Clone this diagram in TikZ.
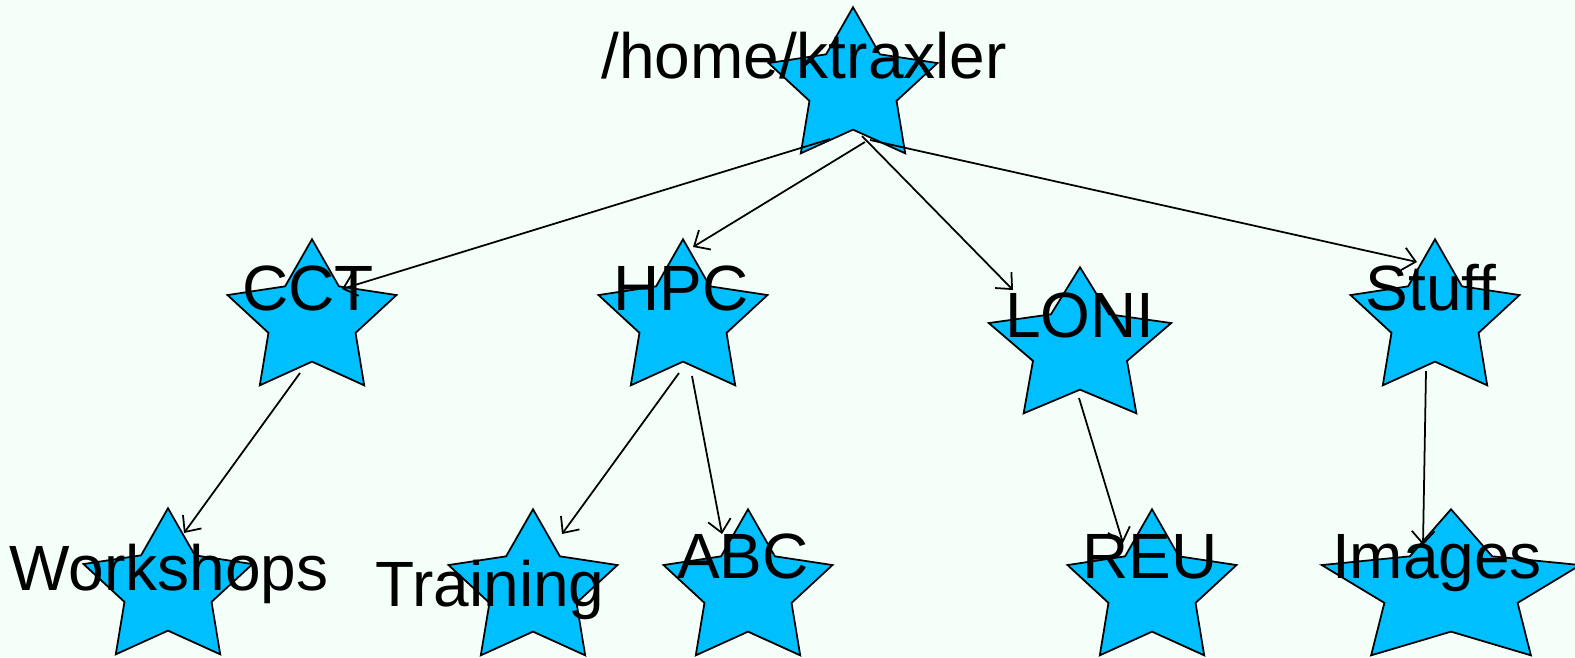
\documentclass[tikz,border=0pt]{standalone}
\usepackage{fontspec}
\setmainfont{Liberation Sans}
\usetikzlibrary{shapes.geometric,arrows.meta}
\definecolor{bgmint}{RGB}{245,255,250}
\definecolor{starblue}{RGB}{0,191,255}
\begin{document}
\begin{tikzpicture}[x=0.01cm, y=-0.01cm]

\tikzstyle{s}=[draw, fill=starblue, line width=0.5pt, star, star points=5, star point ratio=1.94, minimum size=1.614cm, inner sep=0pt, xscale=1.1];
\tikzstyle{t}=[anchor=base, inner sep=0pt, font=\fontsize{18.2}{20}\selectfont];
\tikzstyle{e}=[-{Straight Barb[length=3.6pt, width=6.5pt, line width=0.5pt]}, line width=0.5pt];

\fill[bgmint] (0,0) rectangle (1575,657);
\useasboundingbox (0,0) rectangle (1575,657);

\node[s] (home) at (853, 88) {};
\node[s] (cct) at (312, 320) {};
\node[s] (hpc) at (683, 320) {};
\node[s, xscale=1.08] (loni) at (1080, 348) {};
\node[s] (stuff) at (1435, 320) {};
\node[s] (workshops) at (168, 589) {};
\node[s] (training) at (533, 590) {};
\node[s] (abc) at (748, 590) {};
\node[s] (reu) at (1152, 590) {};
\node[s, xscale=1.53] (images) at (1451, 590) {};

\node[t] (home_t) at (804, 78) {/home/ktraxler};
\node[t] (cct_t) at (308, 310) {CCT};
\node[t] (hpc_t) at (681, 310) {HPC};
\node[t] (loni_t) at (1080, 337) {LONI};
\node[t] (stuff_t) at (1431, 310) {Stuff};
\node[t] (workshops_t) at (169, 590) {Workshops};
\node[t] (training_t) at (490, 606) {Training};
\node[t] (abc_t) at (743, 578) {ABC};
\node[t] (reu_t) at (1150, 578) {REU};
\node[t] (images_t) at (1437, 578) {Images};

\draw[e] ([shift={(-23,51)}]home.center) to ([shift={(30,-31)}]cct.center);
\draw[e] ([shift={(12,54)}]home.center) to ([shift={(10,-73)}]hpc.center);
\draw[e] ([shift={(9,48)}]home.center) to ([shift={(-67,-58)}]loni.center);
\draw[e] ([shift={(17,52)}]home.center) to ([shift={(-18,-58)}]stuff.center);

\draw[e] ([shift={(-12,53)}]cct.center) to ([shift={(16,-56)}]workshops.center);
\draw[e] ([shift={(-4,53)}]hpc.center) to ([shift={(29,-56)}]training.center);
\draw[e] ([shift={(9,56)}]hpc.center) to ([shift={(-26,-56)}]abc.center);
\draw[e] ([shift={(-1,50)}]loni.center) to ([shift={(-29,-47)}]reu.center);
\draw[e] ([shift={(-9,51)}]stuff.center) to ([shift={(-28,-45)}]images.center);
\end{tikzpicture}
\end{document}
